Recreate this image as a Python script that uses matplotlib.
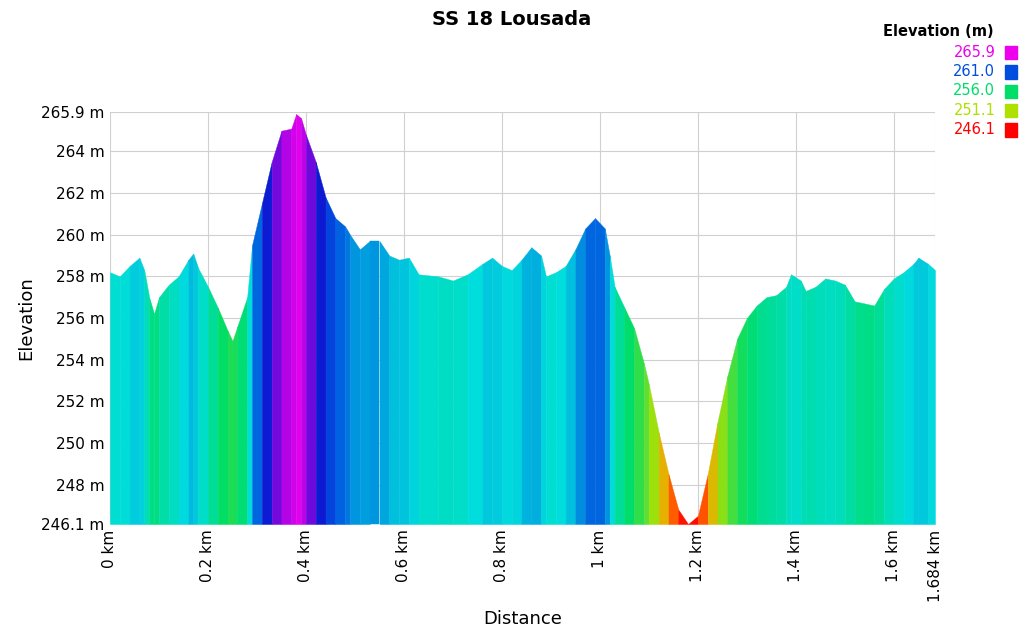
import numpy as np
import matplotlib
matplotlib.use("Agg")
import matplotlib.pyplot as plt
from matplotlib.colors import LinearSegmentedColormap, Normalize

dist_km = [0, 0.02, 0.04, 0.06, 0.07, 0.08, 0.09, 0.1, 0.12, 0.14, 0.16, 0.17, 0.18, 0.2, 0.22, 0.24,
           0.25, 0.26, 0.28, 0.29, 0.31, 0.33, 0.35, 0.37, 0.38, 0.39, 0.4, 0.42, 0.44, 0.46, 0.48,
           0.49, 0.51, 0.53, 0.55, 0.57, 0.59, 0.61, 0.63, 0.67, 0.7, 0.73, 0.76, 0.78, 0.8, 0.82,
           0.84, 0.86, 0.88, 0.89, 0.91, 0.93, 0.95, 0.97, 0.99, 1.01, 1.02, 1.03, 1.05, 1.07, 1.09,
           1.1, 1.12, 1.14, 1.16, 1.18, 1.2, 1.22, 1.24, 1.26, 1.28, 1.3, 1.32, 1.34, 1.36, 1.38,
           1.39, 1.41, 1.42, 1.44, 1.46, 1.48, 1.5, 1.52, 1.54, 1.56, 1.58, 1.6, 1.62, 1.64, 1.65,
           1.67, 1.684]
elev_m = [258.2, 258.0, 258.5, 258.9, 258.3, 257.0, 256.2, 257.0, 257.6, 258.0, 258.8, 259.1, 258.4,
          257.5, 256.5, 255.4, 254.9, 255.6, 257.0, 259.5, 261.5, 263.5, 265.0, 265.1, 265.8, 265.6,
          264.8, 263.5, 261.8, 260.8, 260.4, 260.0, 259.3, 259.7, 259.7, 259.0, 258.8, 258.9, 258.1,
          258.0, 257.8, 258.1, 258.6, 258.9, 258.5, 258.3, 258.8, 259.4, 259.0, 258.0, 258.2, 258.5,
          259.3, 260.3, 260.8, 260.3, 259.0, 257.5, 256.5, 255.5, 253.8, 252.8, 250.5, 248.5, 246.8,
          246.1, 246.5, 248.5, 251.0, 253.2, 255.0, 256.0, 256.6, 257.0, 257.1, 257.5, 258.1, 257.8,
          257.3, 257.5, 257.9, 257.8, 257.6, 256.8, 256.7, 256.6, 257.4, 257.9, 258.2, 258.6, 258.9,
          258.6, 258.3]
legend_vals = [265.9, 261.0, 256.0, 251.1, 246.1]
x_ticks = [0, 0.2, 0.4, 0.6, 0.8, 1.0, 1.2, 1.4, 1.6, 1.684]
x_tick_labels = ["0 km", "0.2 km", "0.4 km", "0.6 km", "0.8 km", "1 km", "1.2 km", "1.4 km", "1.6 km", "1.684 km"]
y_ticks = [246.1, 248, 250, 252, 254, 256, 258, 260, 262, 264, 265.9]
y_tick_labels = ["246.1 m", "248 m", "250 m", "252 m", "254 m", "256 m", "258 m", "260 m", "262 m", "264 m", "265.9 m"]

cmap = LinearSegmentedColormap.from_list("elev", [
    (0.0, "#ff0000"), (0.13, "#ff9900"), (0.25, "#b0e000"), (0.5, "#00dd66"),
    (0.62, "#00dddd"), (0.75, "#0050e0"), (0.85, "#1010d0"), (1.0, "#ee00ee")])
norm = Normalize(246.1, 265.9)

fig = plt.figure(figsize=(10.24, 6.36), dpi=100)
ax = fig.add_axes([0.1074, 0.176, 0.8057, 0.648])
ymin = 246.1
for i in range(len(dist_km) - 1):
    x0, x1 = dist_km[i], dist_km[i + 1]
    e0, e1 = elev_m[i], elev_m[i + 1]
    c = cmap(norm((e0 + e1) / 2))
    ax.fill_between([x0, x1], [e0, e1], ymin, color=c, linewidth=0.3, edgecolor=c, zorder=2)

ax.set_xlim(0, 1.684)
ax.set_ylim(246.1, 265.9)
ax.set_xticks(x_ticks)
ax.set_xticklabels(x_tick_labels, rotation=90, fontsize=11)
ax.set_yticks(y_ticks)
ax.set_yticklabels(y_tick_labels, fontsize=11)
ax.grid(True, color="#d0d0d0", linewidth=0.8, zorder=0)
ax.set_axisbelow(True)
for s in ax.spines.values():
    s.set_visible(False)
ax.tick_params(length=0, pad=4)
ax.set_xlabel("Distance", fontsize=13, labelpad=6)
ax.set_ylabel("Elevation", fontsize=13)
fig.suptitle("SS 18 Lousada", fontsize=14, fontweight="bold", y=0.985)

fig.text(0.97, 0.951, "Elevation (m)", fontsize=10.5, fontweight="bold", ha="right", va="center")
for k, v in enumerate(legend_vals):
    y = 0.918 - k * 0.0305
    col = cmap(norm(v))
    fig.text(0.972, y, f"{v:.1f}", fontsize=10.5, color=col, ha="right", va="center")
    fig.patches.append(plt.Rectangle((0.981, y - 0.011), 0.012, 0.021, transform=fig.transFigure,
                                      color=col, figure=fig))
fig.savefig("out.png", dpi=100, facecolor="white")
